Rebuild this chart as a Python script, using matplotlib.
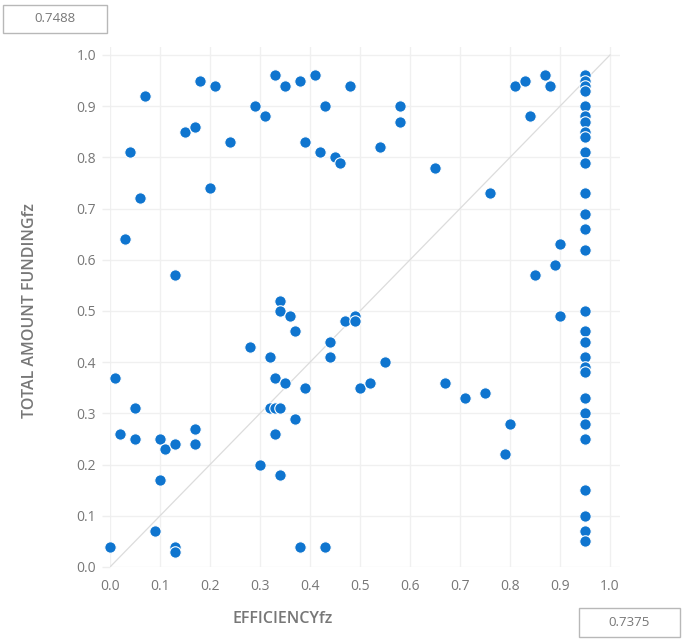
import matplotlib
matplotlib.use("Agg")
import matplotlib.pyplot as plt
from matplotlib.patches import Rectangle

plt.rcParams['font.family'] = ['Open Sans', 'DejaVu Sans']

efficiency = [
    0.00, 0.01, 0.02, 0.03, 0.04, 0.05, 0.05, 0.06, 0.07, 0.09,
    0.10, 0.10, 0.11, 0.13, 0.13, 0.13, 0.13, 0.15, 0.17, 0.17,
    0.17, 0.18, 0.20, 0.21, 0.24, 0.28, 0.29, 0.30, 0.31, 0.32,
    0.32, 0.33, 0.33, 0.33, 0.34, 0.33, 0.34, 0.34, 0.34, 0.35,
    0.35, 0.36, 0.37, 0.37, 0.38, 0.38, 0.39, 0.39, 0.41, 0.42,
    0.43, 0.43, 0.44, 0.44, 0.45, 0.46, 0.47, 0.48, 0.49, 0.49,
    0.50, 0.52, 0.54, 0.55, 0.58, 0.58, 0.65, 0.67, 0.71, 0.75,
    0.76, 0.79, 0.80, 0.81, 0.83, 0.84, 0.85, 0.87, 0.88, 0.89,
    0.90, 0.90,
    0.95, 0.95, 0.95, 0.95, 0.95, 0.95, 0.95, 0.95, 0.95, 0.95,
    0.95, 0.95, 0.95, 0.95, 0.95, 0.95, 0.95, 0.95, 0.95, 0.95,
    0.95, 0.95, 0.95, 0.95, 0.95, 0.95, 0.95, 0.95, 0.95,
]
total_funding = [
    0.04, 0.37, 0.26, 0.64, 0.81, 0.31, 0.25, 0.72, 0.92, 0.07,
    0.25, 0.17, 0.23, 0.57, 0.24, 0.04, 0.03, 0.85, 0.86, 0.27,
    0.24, 0.95, 0.74, 0.94, 0.83, 0.43, 0.90, 0.20, 0.88, 0.41,
    0.31, 0.96, 0.37, 0.31, 0.31, 0.26, 0.52, 0.50, 0.18, 0.94,
    0.36, 0.49, 0.46, 0.29, 0.95, 0.04, 0.83, 0.35, 0.96, 0.81,
    0.90, 0.04, 0.44, 0.41, 0.80, 0.79, 0.48, 0.94, 0.49, 0.48,
    0.35, 0.36, 0.82, 0.40, 0.90, 0.87, 0.78, 0.36, 0.33, 0.34,
    0.73, 0.22, 0.28, 0.94, 0.95, 0.88, 0.57, 0.96, 0.94, 0.59,
    0.63, 0.49,
    0.96, 0.95, 0.94, 0.93, 0.90, 0.88, 0.87, 0.85, 0.84, 0.81,
    0.79, 0.73, 0.69, 0.66, 0.62, 0.50, 0.46, 0.44, 0.41, 0.39,
    0.38, 0.33, 0.30, 0.28, 0.25, 0.15, 0.10, 0.07, 0.05,
]
x_avg_label = "0.7375"
y_avg_label = "0.7488"
ticks = [0.0, 0.1, 0.2, 0.3, 0.4, 0.5, 0.6, 0.7, 0.8, 0.9, 1.0]

W, H = 685, 643
fig = plt.figure(figsize=(W / 100, H / 100), dpi=100)
ax = fig.add_axes([110 / W, (H - 567) / H, 510 / W, 520 / H])
ax.set_xlim(0, 1.02)
ax.set_ylim(0, 1.0156)

ax.plot([0, 1], [0, 1], color='#dcdcdc', lw=0.9, zorder=1)
ax.scatter(efficiency, total_funding, s=68, color='#0f75cf',
           edgecolors='white', linewidths=0.8, zorder=3, clip_on=False)

ax.set_xticks(ticks)
ax.set_yticks(ticks)
ax.set_xticklabels([f"{t:.1f}" for t in ticks])
ax.set_yticklabels([f"{t:.1f}" for t in ticks])
ax.grid(True, color='#f0f0f0', lw=1.0, zorder=0)
ax.set_axisbelow(True)
for s in ax.spines.values():
    s.set_visible(False)
ax.tick_params(axis='both', colors='#eeeeee', labelcolor='#777777',
               labelsize=10, length=6, width=1.0)
ax.tick_params(axis='x', length=0, pad=9)
ax.tick_params(axis='y', pad=4)

fig.text(283 / W, 1 - 619 / H, "EFFICIENCYfz", ha='center', va='center',
         color='#777777', fontsize=11.5, fontweight='semibold')
fig.text(30 / W, 1 - 311 / H, "TOTAL AMOUNT FUNDINGfz", ha='center', va='center',
         rotation=90, color='#777777', fontsize=11.5, fontweight='semibold')

# value boxes
fig.patches.append(Rectangle((3 / W, 1 - 33 / H), 104 / W, 28 / H,
                             transform=fig.transFigure, fill=False,
                             edgecolor='#b8b8b8', lw=1.0))
fig.text(55 / W, 1 - 19 / H, y_avg_label, ha='center', va='center',
         color='#777777', fontsize=9.5)
fig.patches.append(Rectangle((579 / W, 1 - 637 / H), 101 / W, 29 / H,
                             transform=fig.transFigure, fill=False,
                             edgecolor='#b8b8b8', lw=1.0))
fig.text(629 / W, 1 - 622 / H, x_avg_label, ha='center', va='center',
         color='#777777', fontsize=9.5)

fig.savefig("out.png", dpi=100, facecolor='white')
